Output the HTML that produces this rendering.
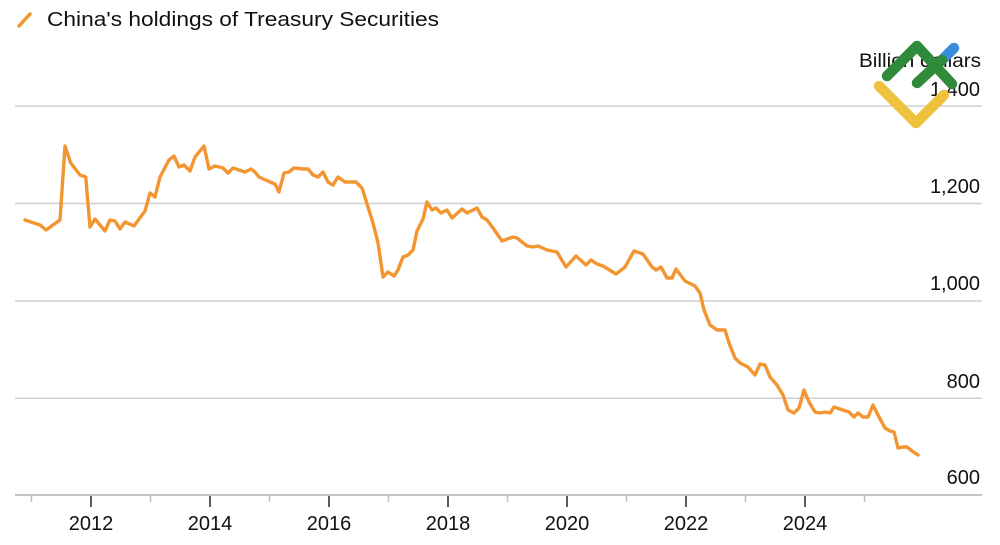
<!DOCTYPE html>
<html>
<head>
<meta charset="utf-8">
<style>
html,body{margin:0;padding:0;background:#fff;}
svg{display:block;}
text{font-family:"Liberation Sans",Arial,sans-serif;fill:#111;}
</style>
</head>
<body>
<svg width="1000" height="545" viewBox="0 0 1000 545" xmlns="http://www.w3.org/2000/svg">
  <!-- title -->
  <line x1="19" y1="26" x2="30" y2="14" stroke="#f39530" stroke-width="3.5" stroke-linecap="round"/>
  <text x="47" y="26" font-size="20.5" textLength="392" lengthAdjust="spacingAndGlyphs">China's holdings of Treasury Securities</text>

  <!-- unit label -->
  <text x="981" y="67" font-size="19.5" text-anchor="end" textLength="122" lengthAdjust="spacingAndGlyphs">Billion dollars</text>

  <!-- gridlines -->
  <g stroke="#cfcfcf" stroke-width="1.5">
    <line x1="15" y1="106" x2="982" y2="106"/>
    <line x1="15" y1="203.5" x2="982" y2="203.5"/>
    <line x1="15" y1="301" x2="982" y2="301"/>
    <line x1="15" y1="398.3" x2="982" y2="398.3"/>
  </g>
  <line x1="15" y1="495" x2="982" y2="495" stroke="#c4c4c4" stroke-width="2"/>

  <!-- y labels -->
  <g font-size="20" text-anchor="end">
    <text x="980" y="96">1,400</text>
    <text x="980" y="193">1,200</text>
    <text x="980" y="290">1,000</text>
    <text x="980" y="388">800</text>
    <text x="980" y="484">600</text>
  </g>

  <!-- minor ticks -->
  <g stroke="#bdbdbd" stroke-width="1.5">
    <line x1="31.5" y1="496" x2="31.5" y2="502"/>
    <line x1="150.5" y1="496" x2="150.5" y2="502"/>
    <line x1="269.5" y1="496" x2="269.5" y2="502"/>
    <line x1="388.5" y1="496" x2="388.5" y2="502"/>
    <line x1="507.5" y1="496" x2="507.5" y2="502"/>
    <line x1="626.5" y1="496" x2="626.5" y2="502"/>
    <line x1="745.5" y1="496" x2="745.5" y2="502"/>
    <line x1="864.5" y1="496" x2="864.5" y2="502"/>
  </g>
  <!-- major ticks -->
  <g stroke="#333" stroke-width="1.6">
    <line x1="91" y1="496" x2="91" y2="507"/>
    <line x1="210" y1="496" x2="210" y2="507"/>
    <line x1="329" y1="496" x2="329" y2="507"/>
    <line x1="448" y1="496" x2="448" y2="507"/>
    <line x1="567" y1="496" x2="567" y2="507"/>
    <line x1="686" y1="496" x2="686" y2="507"/>
    <line x1="805" y1="496" x2="805" y2="507"/>
  </g>
  <g font-size="20" text-anchor="middle">
    <text x="91" y="530">2012</text>
    <text x="210" y="530">2014</text>
    <text x="329" y="530">2016</text>
    <text x="448" y="530">2018</text>
    <text x="567" y="530">2020</text>
    <text x="686" y="530">2022</text>
    <text x="805" y="530">2024</text>
  </g>

  <!-- series -->
  <polyline fill="none" stroke="#f39530" stroke-width="3.4" stroke-linejoin="round" stroke-linecap="round"
    points="25,220 40,225 46,230 60,220 65,146 70.7,163 80,175 85.7,177 90,227 95,219 105,231 110,220 115,221 120,229 125,222 134,226 145,211 150,193 155,197 160,177 169,160 174,156 179,167 184,165 190,171 195,157 204,146 209,169 215,166 223,168 228,173 233,168 245,172 251,169 255,172 259,177 270,182 275,184 279,192 284,173 289,172 294,168 303,169 308,169 313,175 318,177 323,172 328,182 333,185 338,177 345,182 356,182 362,188 373,223 378,243 383,277 388,272 394,276 398,270 403,257 408,255 413,250 417,231 423,219 427,202 432,210 436,208 441,213 447,210 452,218 462,209 467,213 477,208 482,217 487,220 493,228 502,241 513,237 517,238 527,246 533,247 538,246 547,250 557,252 566,267 576,256 586,265 591,260 597,264 603,266 616,274 625,267 634,251 643,254 652,267 656,270 661,267 667,278 672,278 676,269 685,281 695,286 700,293 704,310 710,325 717,330 725,330 729,343 735,358 740,363 748,367 755,375 760,364 765,365 770,377 777,385 783,395 788,410 794,413 799,408 804,390 809,402 815,412 820,413 825,412 830,413 834,407 840,409 849,412 854,417 858,413 863,417 868,417 873,405 879,417 885,428 890,431 894,432 898,448 903,447 907,447 912,451 918,455"/>

  <!-- logo -->
  <g fill="none" stroke-linecap="round" stroke-linejoin="round" stroke-width="10.5">
    <polyline points="879,86 916,123 944,95" stroke="#efc23d"/>
    <line x1="941" y1="61" x2="954" y2="48" stroke="#3a8ddb"/>
    <polyline points="887,76 917,46 952,84" stroke="#2f8a3a"/>
    <line x1="917" y1="83" x2="942" y2="60" stroke="#2f8a3a"/>
  </g>
</svg>
</body>
</html>
